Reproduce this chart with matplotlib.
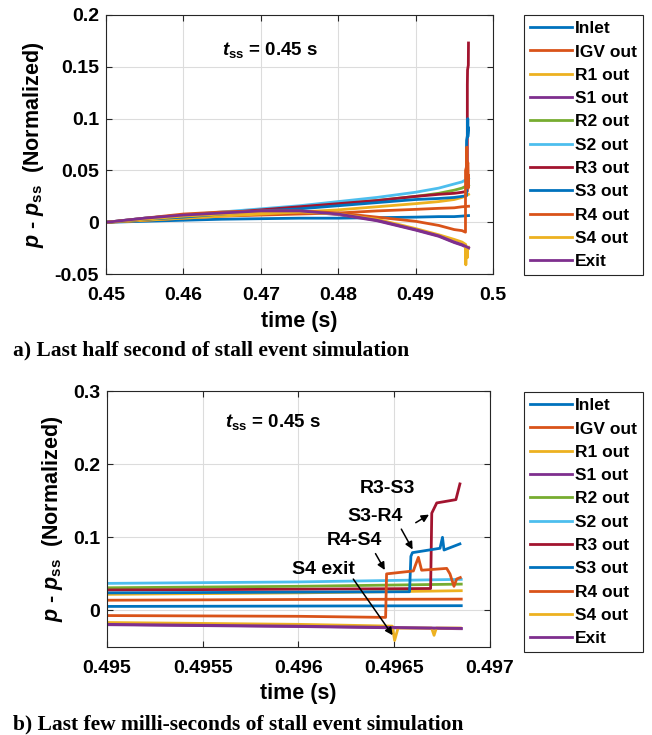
import numpy as np
import matplotlib.pyplot as plt
from matplotlib.ticker import FuncFormatter

plt.rcParams['font.family'] = 'Liberation Sans'
plt.rcParams['font.weight'] = 'bold'
plt.rcParams['mathtext.fontset'] = 'custom'
plt.rcParams['mathtext.rm'] = 'Liberation Sans:bold'
plt.rcParams['mathtext.it'] = 'Liberation Sans:italic:bold'
plt.rcParams['mathtext.bf'] = 'Liberation Sans:bold'

# common time grid for the smooth part (s)
t_base = [0.45, 0.455, 0.46, 0.465, 0.47, 0.475, 0.48, 0.485, 0.49, 0.493, 0.495, 0.496, 0.49685]

inlet = [0, 0.001, 0.002, 0.003, 0.0035, 0.004, 0.004, 0.0045, 0.005, 0.0055, 0.0055, 0.006, 0.0065]
igv_out = [0, 0.002, 0.004, 0.006, 0.007, 0.008, 0.009, 0.011, 0.0125, 0.0135, 0.014, 0.015, 0.0155]
r1_out = [0, 0.002, 0.004, 0.006, 0.008, 0.010, 0.012, 0.015, 0.018, 0.020, 0.022, 0.024, 0.027]
s1_out = [0, 0.004, 0.007, 0.009, 0.0105, 0.0105, 0.0075, 0.0015, -0.0075, -0.0135, -0.0195, -0.022, -0.025]
r2_out = [0, 0.003, 0.006, 0.009, 0.012, 0.015, 0.018, 0.021, 0.025, 0.028, 0.031, 0.033, 0.036]
s2_out = [0, 0.004, 0.007, 0.010, 0.013, 0.016, 0.020, 0.024, 0.029, 0.033, 0.037, 0.039, 0.0425]
exit_ = [0, 0.004, 0.007, 0.009, 0.011, 0.011, 0.008, 0.002, -0.007, -0.013, -0.019, -0.0215, -0.0245]

# series with stall events: own time lists
t_r3 = [0.45, 0.455, 0.46, 0.465, 0.47, 0.475, 0.48, 0.485, 0.49, 0.493, 0.495, 0.496, 0.49669,
        0.496696, 0.496722, 0.496822, 0.496843]
r3_out = [0, 0.003, 0.006, 0.009, 0.012, 0.015, 0.018, 0.021, 0.025, 0.027, 0.028, 0.029, 0.030,
          0.133, 0.147, 0.1515, 0.173]

t_s3 = [0.45, 0.455, 0.46, 0.465, 0.47, 0.475, 0.48, 0.485, 0.49, 0.493, 0.495, 0.496, 0.49658,
        0.496587, 0.496595, 0.496739, 0.496752, 0.49676, 0.496843]
s3_out = [0, 0.003, 0.005, 0.008, 0.011, 0.013, 0.016, 0.019, 0.022, 0.023, 0.024, 0.025, 0.0256,
          0.074, 0.079, 0.085, 0.100, 0.0826, 0.091]

t_r4 = [0.45, 0.455, 0.46, 0.465, 0.47, 0.475, 0.48, 0.485, 0.49, 0.493, 0.495, 0.496, 0.496455,
        0.49646, 0.4966, 0.496608, 0.496626, 0.496643, 0.496774, 0.496791, 0.496812, 0.496826, 0.496845]
r4_out = [0, 0.004, 0.008, 0.010, 0.011, 0.011, 0.009, 0.005, 0.001, -0.003, -0.007, -0.008, -0.0095,
          0.050, 0.054, 0.060, 0.0726, 0.055, 0.0575, 0.050, 0.033, 0.043, 0.045]

t_s4 = [0.45, 0.455, 0.46, 0.465, 0.47, 0.475, 0.48, 0.485, 0.49, 0.493, 0.495, 0.496, 0.49649,
        0.496502, 0.49652, 0.496695, 0.496708, 0.49672, 0.496845]
s4_out = [0, 0.003, 0.006, 0.008, 0.010, 0.010, 0.008, 0.003, -0.006, -0.012, -0.0165, -0.019, -0.0214,
          -0.041, -0.024, -0.024, -0.034, -0.024, -0.024]

names = ['Inlet', 'IGV out', 'R1 out', 'S1 out', 'R2 out', 'S2 out', 'R3 out', 'S3 out', 'R4 out', 'S4 out', 'Exit']
colors = ['#0072BD', '#D95319', '#EDB120', '#7E2F8E', '#77AC30', '#4DBEEE', '#A2142F',
          '#0072BD', '#D95319', '#EDB120', '#7E2F8E']
series = [(t_base, inlet), (t_base, igv_out), (t_base, r1_out), (t_base, s1_out), (t_base, r2_out),
          (t_base, s2_out), (t_r3, r3_out), (t_s3, s3_out), (t_r4, r4_out), (t_s4, s4_out), (t_base, exit_)]


def style_axes(ax):
    ax.grid(True, color='#dcdcdc', lw=0.8)
    ax.set_axisbelow(True)
    for s in ax.spines.values():
        s.set_color('#262626')
        s.set_linewidth(0.8)
    ax.tick_params(direction='in', top=True, right=True, labelsize=14, length=4, colors='#262626')
    ax.tick_params(axis='x', pad=9)
    ax.tick_params(axis='y', pad=5)
    ax.yaxis.set_major_formatter(FuncFormatter(lambda v, p: '%g' % round(v, 6)))
    ax.xaxis.set_major_formatter(FuncFormatter(lambda v, p: '%g' % round(v, 6)))
    for lab in ax.get_xticklabels() + ax.get_yticklabels():
        lab.set_color('black')
    ax.set_xlabel('time (s)', fontsize=15.5, fontweight='bold', labelpad=5)
    ax.set_ylabel(r'$p$ - $p_{\mathrm{ss}}$  (Normalized)', fontsize=15.5, fontweight='bold', labelpad=6)


fig = plt.figure(figsize=(6.52, 7.35), dpi=100)
ax1 = fig.add_axes([0.1626, 0.627, 0.5934, 0.3526])
ax2 = fig.add_axes([0.1641, 0.1197, 0.5874, 0.3483])

for ax in (ax1, ax2):
    for (tt, pp), nm, c in zip(series, names, colors):
        ax.plot(tt, pp, color=c, lw=2, label=nm)
    style_axes(ax)

ax1.set_xlim(0.45, 0.5)
ax1.set_ylim(-0.05, 0.2)
ax1.set_xticks([0.45, 0.46, 0.47, 0.48, 0.49, 0.5])
ax1.set_yticks([-0.05, 0, 0.05, 0.1, 0.15, 0.2])
ax1.text(0.4712, 0.1664, r'$t_{\mathrm{ss}}$ = 0.45 s', fontsize=13.5, ha='center', va='center')

ax2.set_xlim(0.495, 0.497)
ax2.set_ylim(-0.05, 0.3)
ax2.set_xticks([0.495, 0.4955, 0.496, 0.4965, 0.497])
ax2.set_yticks([0, 0.1, 0.2, 0.3])
ax2.text(0.495867, 0.258, r'$t_{\mathrm{ss}}$ = 0.45 s', fontsize=13.5, ha='center', va='center')

notes = [('R3-S3', (0.496467, 0.167), (0.4966, 0.118), (0.496694, 0.133)),
         ('S3-R4', (0.4964, 0.128), (0.49653, 0.1145), (0.496603, 0.080)),
         ('R4-S4', (0.49629, 0.0953), (0.496395, 0.081), (0.496458, 0.052)),
         ('S4 exit', (0.49613, 0.0566), (0.496278, 0.046), (0.4965, -0.037))]
for txt, pos, tail, head in notes:
    ax2.text(pos[0], pos[1], txt, fontsize=14, ha='center', va='center')
    ax2.annotate('', xy=head, xytext=tail,
                 arrowprops=dict(arrowstyle='-|>', color='black', lw=1.1, mutation_scale=11))

for ax, y0 in ((ax1, 1 - 15 / 735), (ax2, 1 - 392 / 735)):
    h, l = ax.get_legend_handles_labels()
    leg = fig.legend(h, l, loc='upper left', bbox_to_anchor=(524 / 652, y0), fontsize=12.5,
                     frameon=True, fancybox=False, edgecolor='#262626', framealpha=1,
                     handlelength=2.4, handletextpad=0.2, labelspacing=0.47, borderpad=0.35,
                     borderaxespad=0)
    leg.get_frame().set_linewidth(0.8)

fig.text(13 / 652, 1 - 350 / 735, 'a) Last half second of stall event simulation',
         family='Liberation Serif', fontweight='bold', fontsize=15.5, va='center')
fig.text(13 / 652, 1 - 724 / 735, 'b) Last few milli-seconds of stall event simulation',
         family='Liberation Serif', fontweight='bold', fontsize=15.5, va='center')

fig.savefig('out.png', dpi=100)
